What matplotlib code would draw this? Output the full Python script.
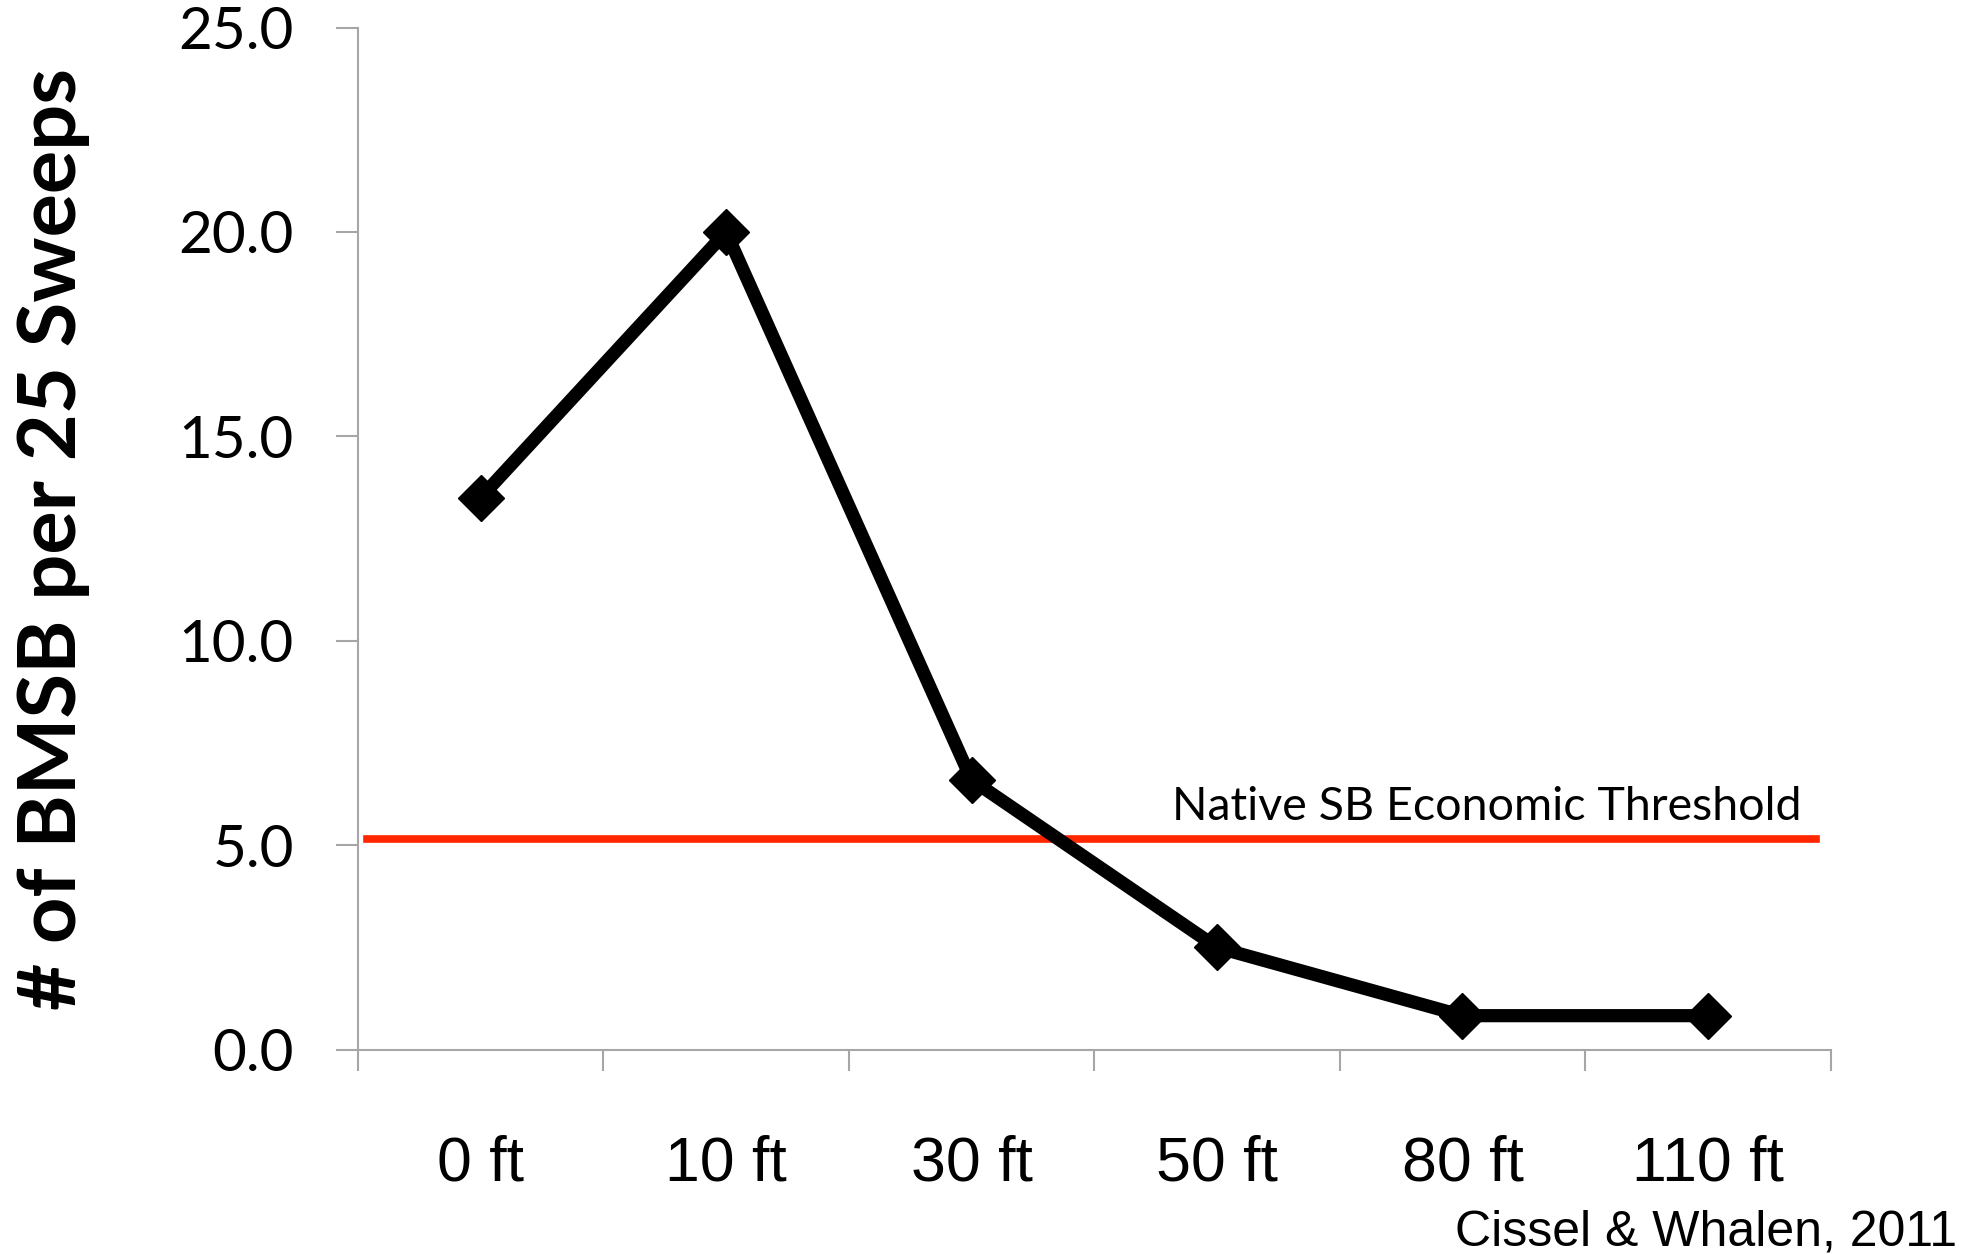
import matplotlib
matplotlib.use("Agg")
import matplotlib.pyplot as plt
import numpy as np

# BMSB counts by distance from field edge
distances = ['0 ft', '10 ft', '30 ft', '50 ft', '80 ft', '110 ft']
bmsb_counts = [13.5, 20.0, 6.6, 2.5, 0.83, 0.83]
threshold = 5.15
threshold_label = 'Native SB Economic Threshold'
y_ticks = [0, 5, 10, 15, 20, 25]

axis_gray = '#a6a6a6'
red = '#ff2600'

fig = plt.figure(figsize=(19.77, 12.54), dpi=100)
ax = fig.add_axes([0.181, 0.163, 0.745, 0.815])

x = np.arange(len(distances))
ax.plot(x, bmsb_counts, color='black', lw=9.5, marker='D', markersize=23,
        solid_joinstyle='round', zorder=3)

ax.axhline(threshold, xmin=0.006, xmax=0.99, color=red, lw=5.5, zorder=2)
ax.annotate(threshold_label, xy=(5.38, threshold), xytext=(0, 14),
            textcoords='offset points', ha='right', va='baseline',
            fontsize=33.5, family='Lato')

ax.set_xlim(-0.5, len(distances) - 0.5)
ax.set_ylim(0, 25)

# category labels centred, tick marks on the boundaries
ax.set_xticks(x)
ax.set_xticklabels(distances, fontsize=45, family='Liberation Sans')
ax.set_xticks(np.arange(-0.5, len(distances)), minor=True)
ax.tick_params(axis='x', which='major', length=0, pad=61)
ax.tick_params(axis='x', which='minor', length=15, width=1.5, color=axis_gray)

ax.set_yticks(y_ticks)
ax.set_yticklabels(['%.1f' % v for v in y_ticks], fontsize=42, family='Lato')
ax.tick_params(axis='y', length=16, width=1.5, color=axis_gray, pad=30)

for side in ['top', 'right']:
    ax.spines[side].set_visible(False)
for side in ['left', 'bottom']:
    ax.spines[side].set_color(axis_gray)
    ax.spines[side].set_linewidth(1.5)

fig.text(0.027, 0.570, '# of BMSB per 25 Sweeps', rotation=90, ha='center',
         va='center', fontsize=58.5, fontweight='bold', family='Lato')
fig.text(0.990, 0.007, 'Cissel & Whalen, 2011', ha='right', va='baseline',
         fontsize=36, family='Liberation Sans')

fig.savefig('out.png', dpi=100)
